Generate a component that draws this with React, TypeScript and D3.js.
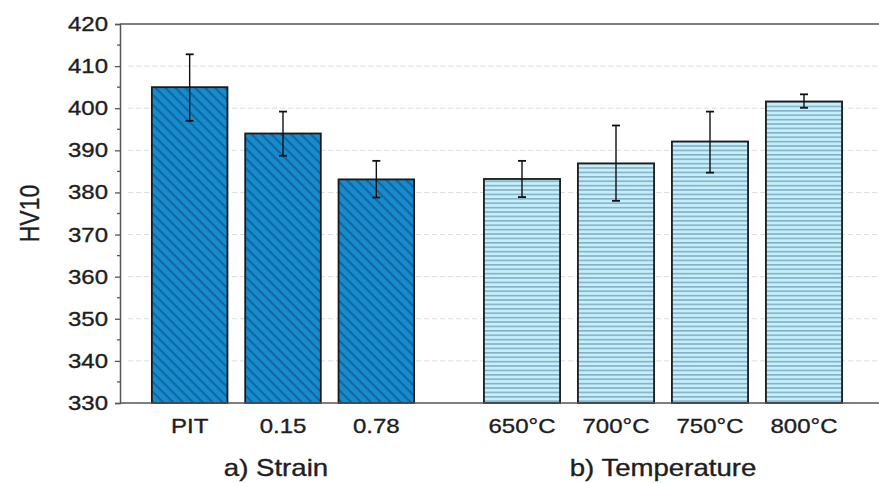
import React, { useRef, useEffect } from 'react';
import * as d3 from 'd3';

// strain group
const strainCats = ['PIT', '0.15', '0.78'];
const strainHV = [405, 394, 383.1];
const strainErrHi = [412.8, 399.2, 387.5];
const strainErrLo = [397.0, 388.7, 378.8];

// temperature group
const tempCats = ['650°C', '700°C', '750°C', '800°C'];
const tempHV = [383.2, 386.9, 392.1, 401.6];
const tempErrHi = [387.5, 395.9, 399.2, 403.3];
const tempErrLo = [378.9, 378.0, 384.7, 400.1];

const yTicks = [330, 340, 350, 360, 370, 380, 390, 400, 410, 420];
const groupLabels = ['a) Strain', 'b) Temperature'];

const App = () => {
  const svgRef = useRef<SVGSVGElement>(null);

  useEffect(() => {
    const svg = d3.select(svgRef.current);
    svg.selectAll('*').remove();

    const W = 879, H = 483;
    const left = 120, top = 24, bottom = 403, right = 879;
    const font = '"Liberation Sans", Arial, sans-serif';
    const sx = 1.2; // the source picture is a bit wider than tall

    svg.attr('width', W).attr('height', H).style('font-family', font);

    // patterns
    const defs = svg.append('defs');
    const pd = defs.append('pattern')
      .attr('id', 'hatchDark')
      .attr('patternUnits', 'userSpaceOnUse')
      .attr('width', 7).attr('height', 7)
      .attr('patternTransform', 'rotate(45)');
    pd.append('rect').attr('width', 7).attr('height', 7).attr('fill', '#168ccf');
    pd.append('rect').attr('width', 7).attr('height', 2.2).attr('fill', '#11679f');

    const pl = defs.append('pattern')
      .attr('id', 'hatchLight')
      .attr('patternUnits', 'userSpaceOnUse')
      .attr('width', 8).attr('height', 4.4);
    pl.append('rect').attr('width', 8).attr('height', 4.4).attr('fill', '#c3f0fb');
    pl.append('rect').attr('width', 8).attr('height', 1.6).attr('fill', '#86aec6');

    const y = d3.scaleLinear().domain([330, 420]).range([bottom, top]);
    const xa = d3.scaleBand().domain(strainCats).range([143, 423]).paddingInner(0.19).paddingOuter(0.095);
    const xb = d3.scaleBand().domain(tempCats).range([475, 851]).paddingInner(0.19).paddingOuter(0.095);

    const label = (x: number, yy: number, txt: string, size: number, anchor: string) =>
      svg.append('text')
        .attr('transform', `translate(${x},${yy}) scale(${sx},1)`)
        .attr('text-anchor', anchor)
        .style('font-size', `${size}px`)
        .style('fill', '#1e1e1e')
        .style('stroke', '#1e1e1e')
        .style('stroke-width', 0.35)
        .text(txt);

    // grid lines
    svg.append('g').selectAll('line')
      .data(yTicks.slice(1, -1))
      .enter().append('line')
      .attr('x1', left + 8).attr('x2', right)
      .attr('y1', d => y(d)).attr('y2', d => y(d))
      .attr('stroke', '#dcdcdc')
      .attr('stroke-width', 1)
      .attr('stroke-dasharray', '5,3');

    const drawGroup = (
      x: d3.ScaleBand<string>, cats: string[], vals: number[],
      hi: number[], lo: number[], fill: string
    ) => {
      const g = svg.append('g');
      const rows = cats.map((c, i) => ({ c, v: vals[i], hi: hi[i], lo: lo[i] }));
      g.selectAll('rect.bar').data(rows).enter().append('rect')
        .attr('class', 'bar')
        .attr('x', d => x(d.c)!)
        .attr('y', d => y(d.v))
        .attr('width', x.bandwidth())
        .attr('height', d => y(330) - y(d.v))
        .attr('fill', fill)
        .attr('stroke', '#1a1a1a')
        .attr('stroke-width', 1.8);
      const cx = (d: { c: string }) => x(d.c)! + x.bandwidth() / 2;
      g.selectAll('line.err').data(rows).enter().append('line')
        .attr('x1', cx).attr('x2', cx)
        .attr('y1', d => y(d.hi)).attr('y2', d => y(d.lo))
        .attr('stroke', '#111').attr('stroke-width', 1.4);
      ['hi', 'lo'].forEach(k => {
        g.selectAll(`line.cap${k}`).data(rows).enter().append('line')
          .attr('x1', d => cx(d) - 4).attr('x2', d => cx(d) + 4)
          .attr('y1', d => y((d as any)[k])).attr('y2', d => y((d as any)[k]))
          .attr('stroke', '#111').attr('stroke-width', 1.8);
      });
      rows.forEach(d => label(cx(d), 433, d.c, 20, 'middle'));
    };

    drawGroup(xa, strainCats, strainHV, strainErrHi, strainErrLo, 'url(#hatchDark)');
    drawGroup(xb, tempCats, tempHV, tempErrHi, tempErrLo, 'url(#hatchLight)');

    // frame: top & bottom lines, left axis
    svg.append('line').attr('x1', left).attr('x2', right).attr('y1', top).attr('y2', top)
      .attr('stroke', '#555').attr('stroke-width', 1.5);
    svg.append('line').attr('x1', left).attr('x2', right).attr('y1', bottom).attr('y2', bottom)
      .attr('stroke', '#555').attr('stroke-width', 1.5);

    const yAxis = d3.axisLeft(y).tickValues(yTicks).tickSize(5).tickFormat(() => '');
    const ya = svg.append('g').attr('transform', `translate(${left},0)`).call(yAxis);
    ya.select('.domain').attr('stroke', '#555').attr('stroke-width', 1.5);
    ya.selectAll('.tick line').attr('stroke', '#555').attr('stroke-width', 1.3);

    yTicks.forEach(t => label(108, y(t) + 7, String(t), 20, 'end'));

    // minor ticks
    const minor = d3.range(335, 420, 10);
    svg.append('g').selectAll('line').data(minor).enter().append('line')
      .attr('x1', left - 3).attr('x2', left)
      .attr('y1', d => y(d)).attr('y2', d => y(d))
      .attr('stroke', '#555').attr('stroke-width', 1.3);

    // y label
    svg.append('text')
      .attr('transform', `translate(39,${(top + bottom) / 2}) rotate(-90) scale(1,${sx})`)
      .attr('text-anchor', 'middle')
      .style('font-size', '23px')
      .style('fill', '#1e1e1e')
      .style('stroke', '#1e1e1e')
      .style('stroke-width', 0.3)
      .text('HV10');

    // group labels
    const groupCenters = [
      (xa(strainCats[0])! + xa(strainCats[2])! + xa.bandwidth()) / 2 - 7,
      (xb(tempCats[0])! + xb(tempCats[3])! + xb.bandwidth()) / 2,
    ];
    groupLabels.forEach((t, i) => label(groupCenters[i], 476, t, 23, 'middle'));
  }, []);

  return (
    <div style={{ position: 'absolute', left: 0, top: 0, background: '#fff' }}>
      <svg ref={svgRef} style={{ display: 'block' }} />
    </div>
  );
};

export default App;
